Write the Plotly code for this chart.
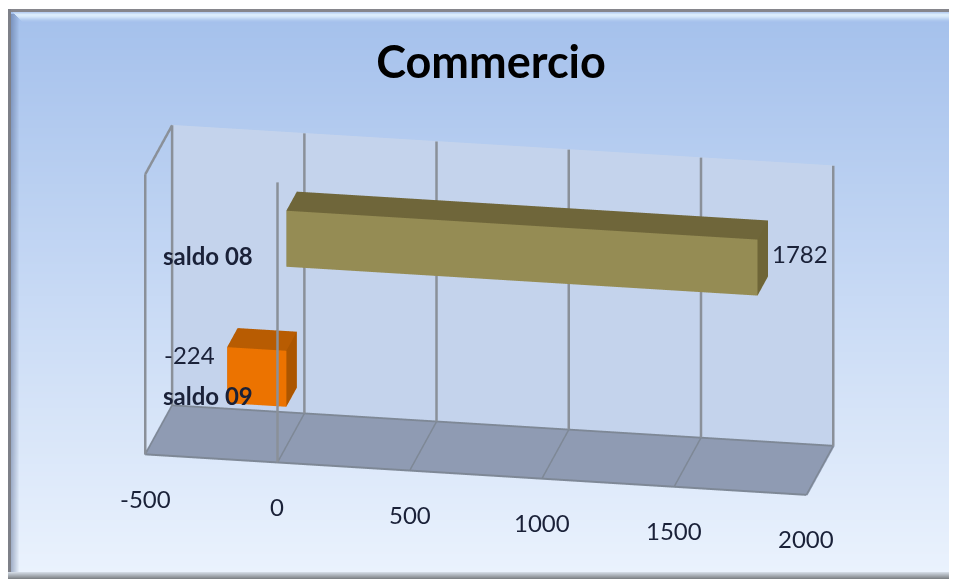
import plotly.graph_objects as go

title = "Commercio"
categories = ["saldo 09", "saldo 08"]
values = [-224, 1782]
tick_values = [-500, 0, 500, 1000, 1500, 2000]
front_colors = ["#EC7300", "#958C54"]
top_colors = ["#B85C02", "#6F663A"]
side_colors = ["#AC5600", "#6E6537"]

X0, X1 = tick_values[0], tick_values[-1]
Z1 = len(categories)
Y0_BAR, Y1_BAR = 0.33, 0.72
HALF = 0.2
BAR_DROP = 0.018
K = 1.68
ZOOM = 1.043
CENTER = dict(x=-0.024, y=0.0, z=0.06)
EYE = dict(x=0.170 * K + CENTER["x"], y=-0.927 * K + CENTER["y"], z=0.334 * K + CENTER["z"])
INK = "#1A2138"
FONT = "Lato"

fig = go.Figure()


def hex_rgb(c):
    return tuple(int(c[i:i + 2], 16) for i in (1, 3, 5))


def mix(a, b, t):
    ca, cb = hex_rgb(a), hex_rgb(b)
    return "rgb(%d,%d,%d)" % tuple(round(ca[i] + (cb[i] - ca[i]) * t) for i in range(3))


W, H = 949, 571  # the page body adds an 8 px margin at the left and top
shapes = []
for py in range(0, H, 2):
    t = min(max((py - 12) / 550, 0), 1)
    shapes.append(dict(type="rect", xref="paper", yref="paper", layer="below",
                       x0=0, x1=1, y0=1 - py / H, y1=1 - (py + 2) / H,
                       fillcolor=mix("#A5C1EC", "#EAF2FD", t), line_width=0))


def px_rect(x0, y0, x1, y1, color):
    shapes.append(dict(type="rect", xref="paper", yref="paper", layer="below",
                       x0=x0 / W, x1=x1 / W, y0=1 - y0 / H, y1=1 - y1 / H,
                       fillcolor=color, line_width=0))


# picture frame: translucent bevels over the gradient
for i in range(8):
    px_rect(3 + i, 6, 4 + i, 566, "rgba(70,90,130,%.3f)" % (0.42 * (1 - i / 8)))
for i, a in enumerate([0.30, 0.55, 0.80, 0.80, 0.72, 0.58, 0.42, 0.26, 0.14, 0.06]):
    px_rect(5 + i, 4 + i, W, 5 + i, "rgba(232,246,255,%.2f)" % a)
for i, a in enumerate([0.25, 0.15, 0.08]):
    px_rect(W - 3 + i, 14, W - 2 + i, 564, "rgba(70,90,130,%.2f)" % a)
px_rect(0, 1, W, 4, "#86868C")
px_rect(0, 1, 3, 566, "#7E8088")
for i in range(7):
    px_rect(0, 564 + i, W, 565 + i, mix("#D0D8E2", "#808488", i / 6))
px_rect(0, 0, W, 1, "#FFFFFF")

# bars
for v, cat_i, fc, tc, sc, name in zip(values, range(len(values)), front_colors, top_colors, side_colors, categories):
    lo, hi = min(0, v), max(0, v)
    zc = cat_i + 0.5 - BAR_DROP
    z0, z1 = zc - HALF, zc + HALF
    xs = [lo, hi, hi, lo, lo, hi, hi, lo]
    ys = [Y0_BAR, Y0_BAR, Y1_BAR, Y1_BAR, Y0_BAR, Y0_BAR, Y1_BAR, Y1_BAR]
    zs = [z0, z0, z0, z0, z1, z1, z1, z1]
    i = [0, 0, 4, 4, 0, 0, 1, 1, 2, 2, 3, 3]
    j = [1, 2, 5, 6, 1, 5, 2, 6, 3, 7, 0, 4]
    k = [2, 3, 6, 7, 5, 4, 6, 5, 7, 6, 4, 7]
    colors = [fc, fc, tc, tc, fc, fc, sc, sc, sc, sc, sc, sc]
    fig.add_trace(go.Mesh3d(x=xs, y=ys, z=zs, i=i, j=j, k=k, facecolor=colors, flatshading=True,
                            lighting=dict(ambient=1, diffuse=0, specular=0, fresnel=0, roughness=1),
                            hoverinfo="skip", name=name, showscale=False))

# chart box edges and gridlines
LINE = "#8A9099"
FLOOR_LINE = "#7E8896"
edges = [
    ([X0, X0], [0, 0], [0, Z1], LINE, 5),          # left wall, front upright
    ([X0, X0], [0, 1], [Z1, Z1], LINE, 5),         # left wall, top edge
    ([0, 0], [0, 0], [0, Z1], LINE, 5),            # upright at the zero of the value axis
    ([X0, X1], [0, 0], [0, 0], FLOOR_LINE, 4),     # floor front edge
    ([X0, X1], [1, 1], [0, 0], FLOOR_LINE, 4),     # floor back edge
]
for t in tick_values:
    edges.append(([t, t], [1, 1], [0, Z1], LINE, 5))
    edges.append(([t, t], [0, 1], [0, 0], FLOOR_LINE, 3))
for ex, ey, ez, col, wid in edges:
    fig.add_trace(go.Scatter3d(x=ex, y=ey, z=ez, mode="lines", line=dict(color=col, width=wid),
                               hoverinfo="skip", showlegend=False))

annotations = []
for t in tick_values:
    annotations.append(dict(x=t, y=0, z=0, text=str(t), showarrow=False, yshift=-44,
                            font=dict(family=FONT, size=24, color=INK)))
for ci, cat in enumerate(categories):
    annotations.append(dict(x=0, y=0, z=ci + 0.5, text=cat, showarrow=False, xanchor="right", xshift=-22, yshift=-3,
                            font=dict(family=FONT, size=24, color=INK, weight="bold")))
annotations.append(dict(x=values[1], y=Y1_BAR, z=1.5, text=str(values[1]), showarrow=False, xanchor="left",
                        xshift=2, yshift=-8, font=dict(family=FONT, size=24, color=INK)))
annotations.append(dict(x=values[0], y=Y0_BAR, z=0.5, text=str(values[0]), showarrow=False, xanchor="right",
                        xshift=-10, yshift=18, font=dict(family=FONT, size=24, color=INK)))

axis_off = dict(showticklabels=False, ticks="", title="", zeroline=False, showspikes=False, showline=False,
                showgrid=False)
PAD = 0.002  # keeps the box edges just inside the clipping bounds of the scene
fig.update_layout(
    width=W, height=H, margin=dict(l=0, r=0, t=0, b=0), showlegend=False,
    paper_bgcolor="rgba(0,0,0,0)", plot_bgcolor="rgba(0,0,0,0)", shapes=shapes,
    title=dict(text=title, x=0.509, y=0.905, xanchor="center", yanchor="middle",
               font=dict(family=FONT, size=45, color="#000000", weight="bold")),
    scene=dict(
        domain=dict(x=[0, 1], y=[0, 1]),
        xaxis=dict(range=[X0 - (X1 - X0) * PAD, X1 + (X1 - X0) * PAD], tickvals=tick_values, showbackground=False, **axis_off),
        yaxis=dict(range=[-PAD, 1 + PAD], showbackground=True, backgroundcolor="#C4D3EC", **axis_off),
        zaxis=dict(range=[-PAD, Z1 + PAD], showbackground=True, backgroundcolor="#8F9BB3", **axis_off),
        aspectmode="manual", aspectratio=dict(x=2.266 * ZOOM, y=0.5025 * ZOOM, z=1 * ZOOM),
        camera=dict(eye=EYE, up=dict(x=0, y=0, z=1), center=CENTER,
                    projection=dict(type="orthographic")),
        bgcolor="rgba(0,0,0,0)",
        annotations=annotations,
    ),
)
fig.write_html("out.html")
